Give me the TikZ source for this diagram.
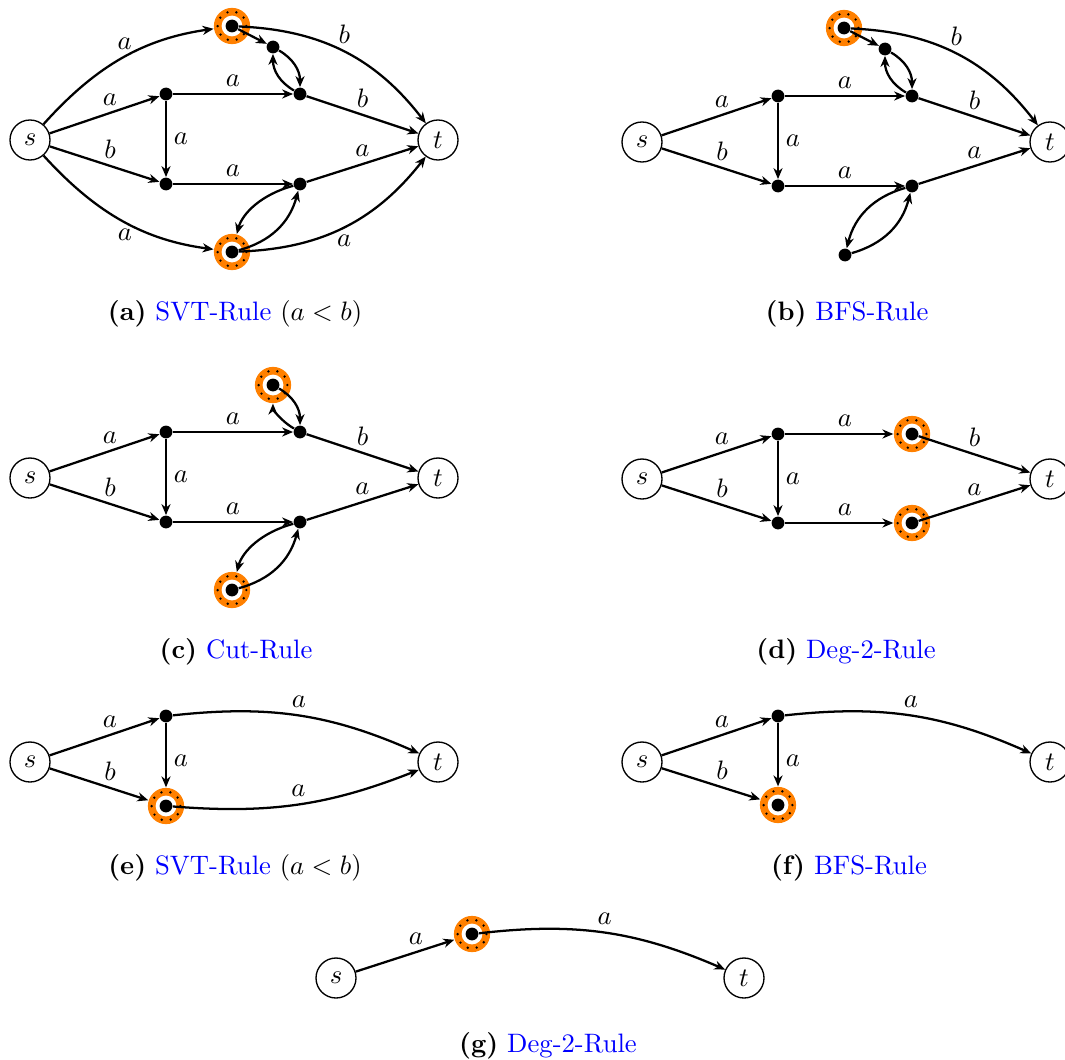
\documentclass[tikz,border=0pt]{standalone}
\usetikzlibrary{arrows.meta}
\tikzset{
  term/.style={circle,draw,line width=0.5pt,minimum size=15pt,inner sep=0pt},
  dotn/.style={circle,fill,inner sep=0pt,minimum size=4.8pt},
  e/.style={line width=0.85pt,-{Stealth[length=4.1pt,width=3.4pt,inset=1.3pt]}},
  ein/.style={e,shorten >=4.4pt},
  lab/.style={inner sep=2.5pt},
  capt/.style={inner sep=0pt}
}
\newcommand\HLnode[2]{%
  \fill[orange] (#2) circle[radius=6.8pt];
  \fill[white] (#2) circle[radius=3.9pt];
  \draw[line width=1pt,dash pattern=on 0pt off 3.4pt,line cap=round] (#2) circle[radius=5.4pt];
  \node[dotn] (#1) at (#2) {};}
\newcommand\RuleName[1]{\textcolor{blue}{#1}}
\begin{document}
\begin{tikzpicture}[x=0.375pt,y=-0.375pt]
\useasboundingbox (0,0) rectangle (1065,1059);

% ---------- (a)
\node[term] (sa) at (30,140) {$s$};
\node[term] (ta) at (438,140) {$t$};
\node[dotn] (a1) at (166,94) {};
\node[dotn] (a2) at (166,184) {};
\node[dotn] (a3) at (300,94) {};
\node[dotn] (a4) at (300,184) {};
\node[dotn] (a5) at (273,47) {};
\HLnode{ah1}{232,26}
\HLnode{ah2}{232,252}
\draw[ein] (sa) to[bend left=20] node[lab,above]{$a$} (ah1);
\draw[e] (ah1) to[bend left=25] node[lab,above]{$b$} (ta);
\draw[e] (ah1) -- (a5);
\draw[e] (a5) to[bend left=30] (a3);
\draw[e] (a3) to[bend left=30] (a5);
\draw[e] (sa) -- node[lab,above,pos=.55]{$a$} (a1);
\draw[e] (sa) -- node[lab,above,pos=.55]{$b$} (a2);
\draw[e] (a1) -- node[lab,right]{$a$} (a2);
\draw[e] (a1) -- node[lab,above]{$a$} (a3);
\draw[e] (a2) -- node[lab,above]{$a$} (a4);
\draw[e] (a3) -- node[lab,above]{$b$} (ta);
\draw[e] (a4) -- node[lab,above]{$a$} (ta);
\draw[ein] (sa) to[bend right=20] node[lab,below]{$a$} (ah2);
\draw[e] (ah2) to[bend right=25] node[lab,below]{$a$} (ta);
\draw[ein] (a4) to[bend right=30] (ah2);
\draw[e] (ah2) to[bend right=30] (a4);
\node[capt] (capa) at (235,314) {\textbf{(a)}\ \RuleName{SVT-Rule} ($a<b$)};

% ---------- (b)
\node[term] (sb) at (642,142) {$s$};
\node[term] (tb) at (1050,142) {$t$};
\node[dotn] (b1) at (778,96) {};
\node[dotn] (b2) at (778,186) {};
\node[dotn] (b3) at (912,96) {};
\node[dotn] (b4) at (912,186) {};
\node[dotn] (b5) at (885,49) {};
\node[dotn] (b6) at (845,255) {};
\HLnode{bh1}{844,28}
\draw[e] (bh1) to[bend left=25] node[lab,above]{$b$} (tb);
\draw[e] (bh1) -- (b5);
\draw[e] (b5) to[bend left=30] (b3);
\draw[e] (b3) to[bend left=30] (b5);
\draw[e] (sb) -- node[lab,above,pos=.55]{$a$} (b1);
\draw[e] (sb) -- node[lab,above,pos=.55]{$b$} (b2);
\draw[e] (b1) -- node[lab,right]{$a$} (b2);
\draw[e] (b1) -- node[lab,above]{$a$} (b3);
\draw[e] (b2) -- node[lab,above]{$a$} (b4);
\draw[e] (b3) -- node[lab,above]{$b$} (tb);
\draw[e] (b4) -- node[lab,above]{$a$} (tb);
\draw[e] (b4) to[bend right=30] (b6);
\draw[e] (b6) to[bend right=30] (b4);
\node[capt] (capb) at (847,314) {\textbf{(b)}\ \RuleName{BFS-Rule}};

% ---------- (c)
\node[term] (sc) at (30,478) {$s$};
\node[term] (tc) at (438,478) {$t$};
\node[dotn] (c1) at (166,432) {};
\node[dotn] (c2) at (166,522) {};
\node[dotn] (c3) at (300,432) {};
\node[dotn] (c4) at (300,522) {};
\HLnode{ch1}{273,385}
\HLnode{ch2}{232,590}
\draw[e] (ch1) to[bend left=30] (c3);
\draw[ein] (c3) to[bend left=30] (ch1);
\draw[e] (sc) -- node[lab,above,pos=.55]{$a$} (c1);
\draw[e] (sc) -- node[lab,above,pos=.55]{$b$} (c2);
\draw[e] (c1) -- node[lab,right]{$a$} (c2);
\draw[e] (c1) -- node[lab,above]{$a$} (c3);
\draw[e] (c2) -- node[lab,above]{$a$} (c4);
\draw[e] (c3) -- node[lab,above]{$b$} (tc);
\draw[e] (c4) -- node[lab,above]{$a$} (tc);
\draw[ein] (c4) to[bend right=30] (ch2);
\draw[e] (ch2) to[bend right=30] (c4);
\node[capt] (capc) at (236,652) {\textbf{(c)}\ \RuleName{Cut-Rule}};

% ---------- (d)
\node[term] (sd) at (642,479) {$s$};
\node[term] (td) at (1050,479) {$t$};
\node[dotn] (d1) at (778,434) {};
\node[dotn] (d2) at (778,523) {};
\HLnode{dh1}{912,434}
\HLnode{dh2}{912,523}
\draw[e] (sd) -- node[lab,above,pos=.55]{$a$} (d1);
\draw[e] (sd) -- node[lab,above,pos=.55]{$b$} (d2);
\draw[e] (d1) -- node[lab,right]{$a$} (d2);
\draw[ein] (d1) -- node[lab,above]{$a$} (dh1);
\draw[ein] (d2) -- node[lab,above]{$a$} (dh2);
\draw[e] (dh1) -- node[lab,above]{$b$} (td);
\draw[e] (dh2) -- node[lab,above]{$a$} (td);
\node[capt] (capd) at (846,652) {\textbf{(d)}\ \RuleName{Deg-2-Rule}};

% ---------- (e)
\node[term] (se) at (30,762) {$s$};
\node[term] (te) at (438,762) {$t$};
\node[dotn] (e1) at (166,716) {};
\HLnode{eh1}{166,806}
\draw[e] (se) -- node[lab,above,pos=.55]{$a$} (e1);
\draw[ein] (se) -- node[lab,above,pos=.55]{$b$} (eh1);
\draw[ein] (e1) -- node[lab,right]{$a$} (eh1);
\draw[e] (e1) to[bend left=15] node[lab,above]{$a$} (te);
\draw[e] (eh1) to[bend right=13] node[lab,above]{$a$} (te);
\node[capt] (cape) at (235,868) {\textbf{(e)}\ \RuleName{SVT-Rule} ($a<b$)};

% ---------- (f)
\node[term] (sf) at (642,762) {$s$};
\node[term] (tf) at (1050,762) {$t$};
\node[dotn] (f1) at (778,716) {};
\HLnode{fh1}{778,805}
\draw[e] (sf) -- node[lab,above,pos=.55]{$a$} (f1);
\draw[ein] (sf) -- node[lab,above,pos=.55]{$b$} (fh1);
\draw[ein] (f1) -- node[lab,right]{$a$} (fh1);
\draw[e] (f1) to[bend left=15] node[lab,above]{$a$} (tf);
\node[capt] (capf) at (849,868) {\textbf{(f)}\ \RuleName{BFS-Rule}};

% ---------- (g)
\node[term] (sg) at (336,978) {$s$};
\node[term] (tg) at (744,978) {$t$};
\HLnode{gh1}{472,934}
\draw[ein] (sg) -- node[lab,above,pos=.55]{$a$} (gh1);
\draw[e] (gh1) to[bend left=15] node[lab,above]{$a$} (tg);
\node[capt] (capg) at (548,1046) {\textbf{(g)}\ \RuleName{Deg-2-Rule}};
\end{tikzpicture}
\end{document}
